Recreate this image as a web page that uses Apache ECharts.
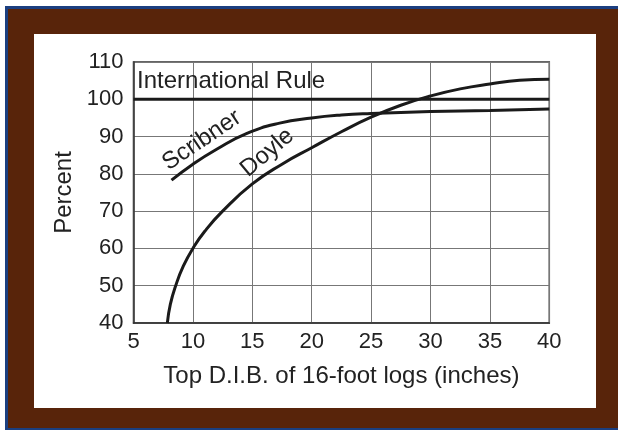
<!DOCTYPE html>
<html>
<head>
<meta charset="utf-8">
<script src="https://cdn.jsdelivr.net/npm/echarts@6/dist/echarts.min.js"></script>
<style>
html,body{margin:0;padding:0;background:#fff;overflow:hidden;}
#c{width:618px;height:430px;}
</style>
</head>
<body>
<div id="c"></div>
<script>
// ---- data ----
var xTicks = [5, 10, 15, 20, 25, 30, 35, 40];
var yTicks = [40, 50, 60, 70, 80, 90, 100, 110];
var internationalX = [5, 40];
var internationalY = [100, 100];
var scribnerX = [8.2, 10, 12, 14.5, 17.3, 20, 22.5, 25, 30, 35, 40];
var scribnerY = [78.3, 82.6, 86.6, 90.8, 93.6, 95.0, 95.8, 96.2, 96.7, 97.0, 97.4];
var doyleX = [7.85, 8.1, 8.55, 9.2, 10, 11, 12.5, 15, 17.5, 20, 22.5, 25, 27.5, 30, 32.5, 35, 37.5, 40];
var doyleY = [40, 45, 50, 55.3, 60, 64.6, 70, 77.3, 82.6, 87.0, 91.3, 95.2, 98.4, 100.9, 102.8, 104.1, 105.1, 105.4];
var curveLabels = ["International Rule", "Scribner", "Doyle"];

function pairs(xs, ys) { return xs.map(function (x, i) { return [x, ys[i]]; }); }

var FONT = "'Liberation Sans', Arial, Helvetica, sans-serif";
var TXT = '#222';
var LINE = '#1a1a1a';

var chart = echarts.init(document.getElementById('c'), null, {renderer: 'canvas'});

var lineStyle = {color: LINE, width: 3};
var option = {
  backgroundColor: '#ffffff',
  animation: false,
  graphic: [
    {type: 'rect', shape: {x: 5, y: 6, width: 620, height: 430}, style: {fill: '#1b3f80'}, z: -10, silent: true},
    {type: 'rect', shape: {x: 8, y: 9, width: 620, height: 419}, style: {fill: '#58240a'}, z: -9, silent: true},
    {type: 'rect', shape: {x: 34, y: 34, width: 562, height: 374}, style: {fill: '#ffffff'}, z: -8, silent: true}
  ],
  grid: {
    left: 133.5, right: 68.7, top: 62, bottom: 107,
    show: true, borderColor: '#333', borderWidth: 1.5, backgroundColor: 'transparent'
  },
  xAxis: {
    type: 'value', min: xTicks[0], max: xTicks[xTicks.length - 1], interval: 5,
    name: 'Top D.I.B. of 16-foot logs (inches)',
    nameLocation: 'middle', nameGap: 41,
    nameTextStyle: {fontFamily: FONT, fontSize: 24, color: TXT},
    axisLine: {show: true, lineStyle: {color: '#333', width: 1.5}},
    axisTick: {show: false},
    axisLabel: {fontFamily: FONT, fontSize: 22, color: TXT, margin: 8},
    splitLine: {show: true, lineStyle: {color: '#777', width: 1}}
  },
  yAxis: {
    type: 'value', min: yTicks[0], max: yTicks[yTicks.length - 1], interval: 10,
    name: 'Percent',
    nameLocation: 'middle', nameGap: 56,
    nameTextStyle: {fontFamily: FONT, fontSize: 24, color: TXT},
    axisLine: {show: true, lineStyle: {color: '#333', width: 1.5}},
    axisTick: {show: false},
    axisLabel: {fontFamily: FONT, fontSize: 22, color: TXT, margin: 10},
    splitLine: {show: true, lineStyle: {color: '#777', width: 1}}
  },
  series: [
    {name: curveLabels[0], type: 'line', data: pairs(internationalX, internationalY), showSymbol: false, lineStyle: lineStyle, z: 3},
    {name: curveLabels[1], type: 'line', data: pairs(scribnerX, scribnerY), smooth: 0.5, showSymbol: false, lineStyle: lineStyle, z: 3},
    {name: curveLabels[2], type: 'line', data: pairs(doyleX, doyleY), smooth: 0.5, showSymbol: false, lineStyle: lineStyle, z: 3}
  ]
};
chart.setOption(option);

// curve annotations placed in data coordinates
var labelAnchors = [
  {text: curveLabels[0], at: [5.3, 104.7], rot: 0, align: 'left'},
  {text: curveLabels[1], at: [10.75, 89.0], rot: 34, align: 'center'},
  {text: curveLabels[2], at: [16.25, 85.7], rot: 40, align: 'center'}
];
var g = option.graphic.slice();
labelAnchors.forEach(function (l) {
  var p = chart.convertToPixel({gridIndex: 0}, l.at);
  g.push({
    type: 'text', x: p[0], y: p[1], rotation: l.rot * Math.PI / 180, z: 10, silent: true,
    style: {text: l.text, fill: TXT, font: '24px ' + FONT, textAlign: l.align, textVerticalAlign: 'middle'}
  });
});
chart.setOption({graphic: g});
</script>
</body>
</html>
